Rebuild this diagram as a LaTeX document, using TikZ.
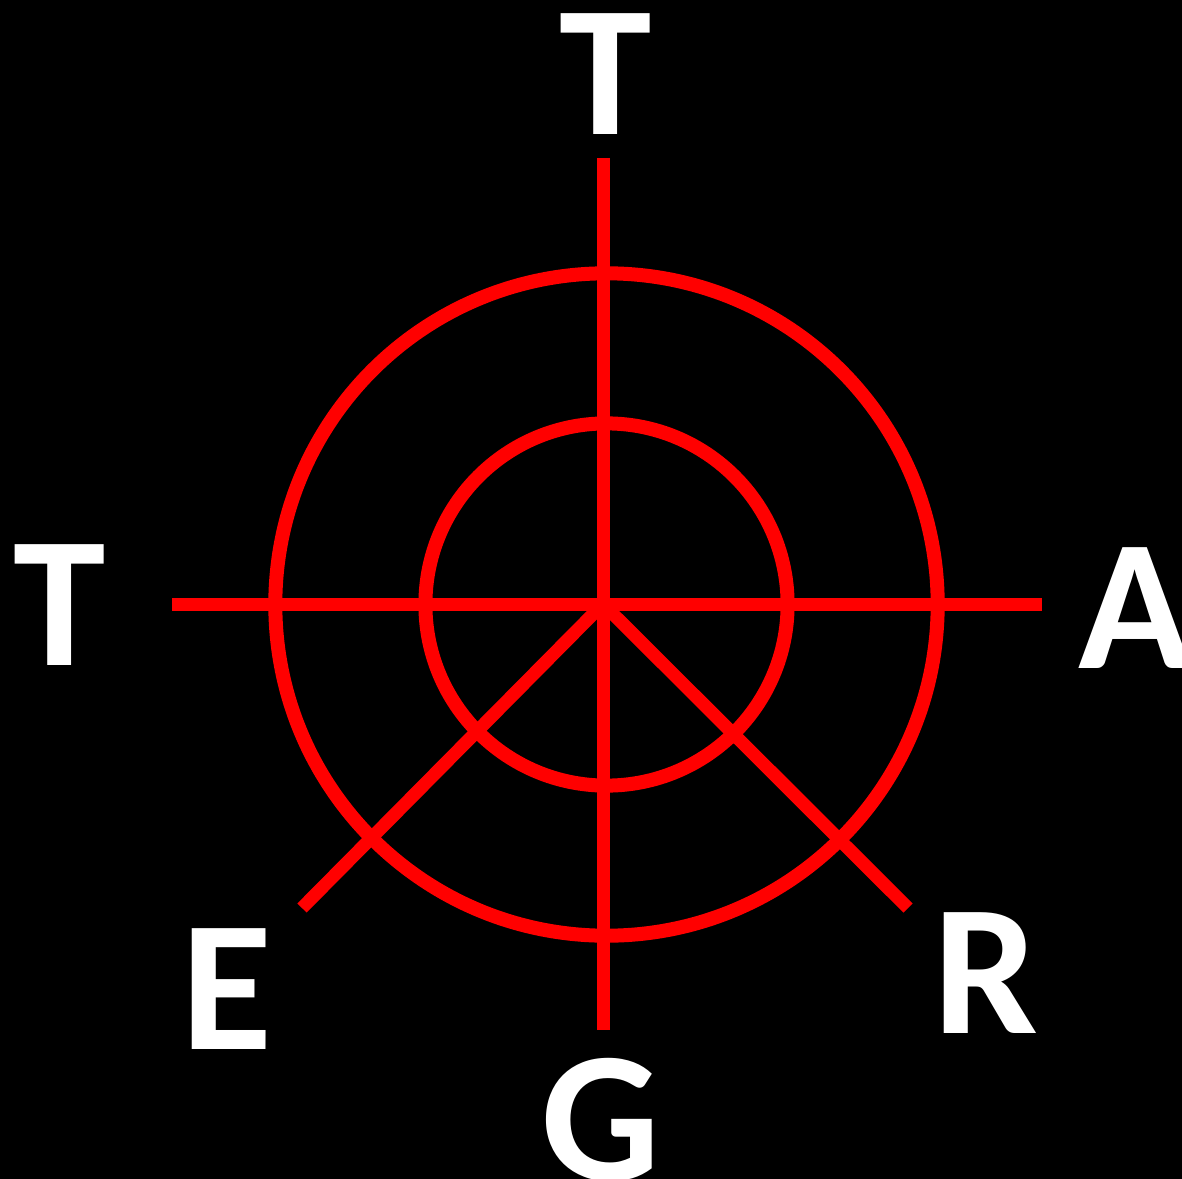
\documentclass[tikz,border=0pt]{standalone}
\usepackage{fontspec}
\setmainfont{Carlito}
\usetikzlibrary{positioning}

\begin{document}
\begin{tikzpicture}[x=0.01cm, y=-0.01cm, line cap=butt]
        \tikzset{
            ring/.style={draw=red, line width=0.14cm},
            spoke/.style={draw=red, line width=0.13cm},
            letter/.style={text=white, inner sep=0pt,
                           font=\fontsize{53}{60}\selectfont\bfseries}
        }
        %% ---- Fondo ----
        \fill[black] (0,0) rectangle (1182,1179);
        \useasboundingbox (0,0) rectangle (1182,1179);
        %% ---- Centro y anillos ----
        \coordinate (c)   at (603, 604);
        \coordinate (cr)  at (606.5, 604.5);
        \draw[ring] (cr) circle[radius=3.31cm];
        \draw[ring] (cr) circle[radius=1.81cm];
        %% ---- Extremos de los radios ----
        \coordinate (n)  at (603, 158);
        \coordinate (s)  at (603, 1030);
        \coordinate (w)  at (172, 604);
        \coordinate (e)  at (1042, 604);
        \coordinate (sw) at (302, 908);
        \coordinate (se) at (908, 908);
        \draw[spoke] (n) -- (s);
        \draw[spoke] (w) -- (e);
        \draw[spoke] (c) -- (sw);
        \draw[spoke] (c) -- (se);
        %% ---- Letras ----
        \node[letter] (tn) at (606, 74)   {T};
        \node[letter] (tw) at (60, 605)   {T};
        \node[letter] (a)  at (1135, 608) {A};
        \node[letter] (r)  at (986, 973)  {R};
        \node[letter] (g)  at (601, 1120) {G};
        \node[letter] (le) at (227, 989)  {E};
\end{tikzpicture}
\end{document}
